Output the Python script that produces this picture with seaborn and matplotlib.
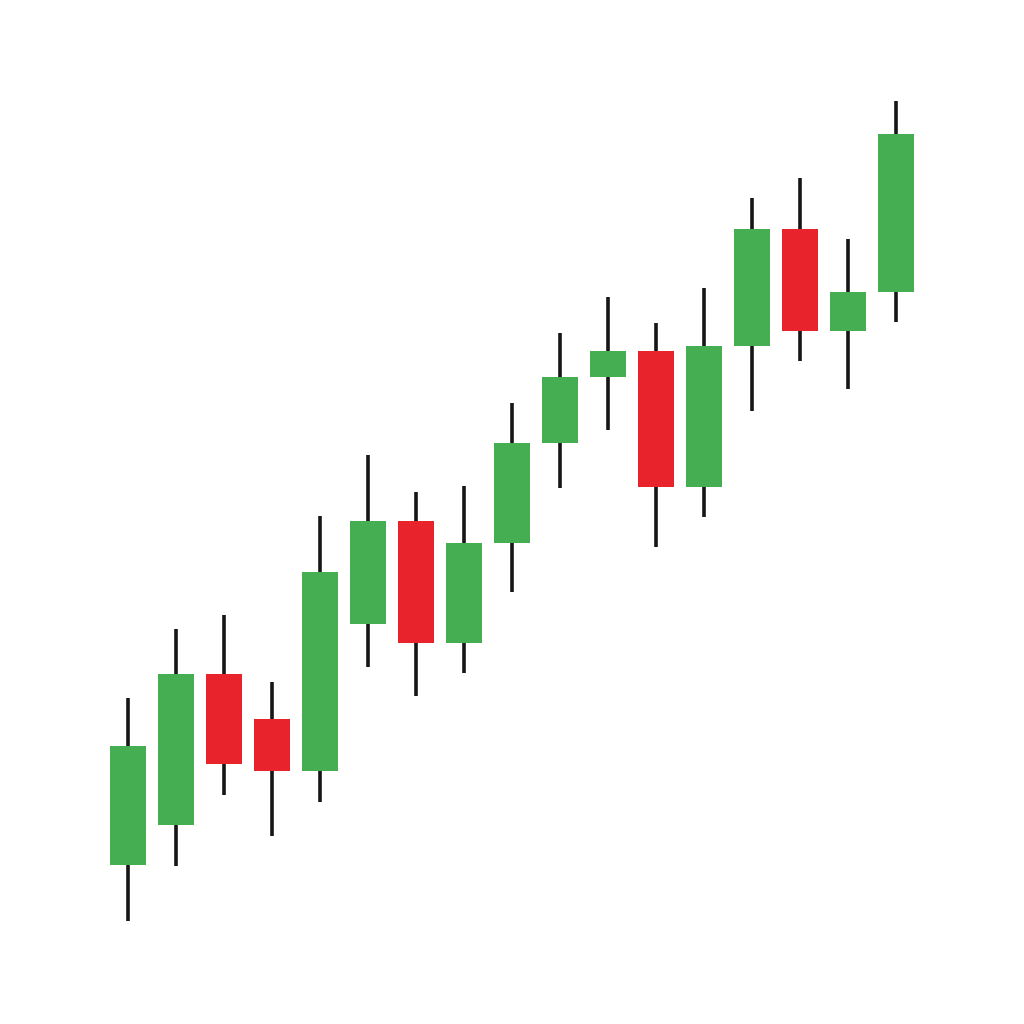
import numpy as np
import pandas as pd
import seaborn as sns
import matplotlib
matplotlib.use("Agg")
import matplotlib.pyplot as plt

# candle data (arbitrary price units)
opens  = [15.9, 19.9, 35.0, 30.5, 25.3, 40.0, 50.3, 38.1, 48.1, 58.1, 64.7, 67.3, 53.7, 67.8, 79.5, 69.3, 73.2]
closes = [27.8, 35.0, 26.0, 25.3, 45.2, 50.3, 38.1, 48.1, 58.1, 64.7, 67.3, 53.7, 67.8, 79.5, 69.3, 73.2, 89.0]
highs  = [32.6, 39.5, 40.9, 34.2, 50.8, 56.9, 53.2, 53.8, 62.1, 69.1, 72.7, 70.1, 73.6, 82.6, 84.6, 78.5, 92.3]
lows   = [10.3, 15.8, 22.9, 18.8, 22.2, 35.7, 32.8, 35.1, 43.2, 53.6, 59.4, 47.7, 50.7, 61.3, 66.3, 63.5, 70.2]

df = pd.DataFrame({'idx': np.arange(len(opens)), 'open': opens, 'close': closes,
                   'high': highs, 'low': lows})
df['up'] = df['close'] >= df['open']
df['bottom'] = df[['open', 'close']].min(axis=1)
df['height'] = (df['close'] - df['open']).abs()

sns.set_theme(style="white")
green = '#45ad52'
red = '#e8232b'

fig = plt.figure(figsize=(10.24, 10.24), dpi=100)
ax = fig.add_axes([0, 0, 1, 1])

# wicks
ax.vlines(df['idx'], df['low'], df['high'], color='#161616', linewidth=2.6, zorder=1)
# bodies
colors = [green if u else red for u in df['up']]
ax.bar(df['idx'], df['height'], bottom=df['bottom'], width=0.75,
       color=colors, edgecolor='none', zorder=2)

ax.set_xlim(-128 / 48, 16 + 128 / 48)
ax.set_ylim(0, 102.4)
ax.axis('off')
sns.despine(left=True, bottom=True)

fig.savefig('out.png', dpi=100, facecolor='white')
